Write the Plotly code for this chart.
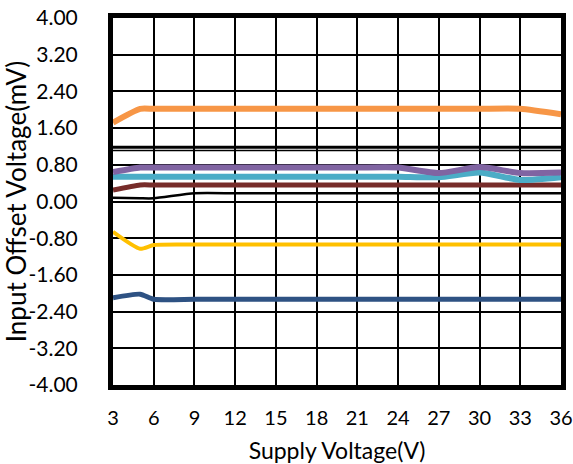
import plotly.graph_objects as go

supply_v = [3, 5, 6, 9, 12, 15, 18, 21, 24, 27, 30, 33, 36]

orange = [1.72, 2.02, 2.02, 2.02, 2.02, 2.02, 2.02, 2.02, 2.02, 2.02, 2.02, 2.02, 1.90]
purple = [0.64, 0.74, 0.74, 0.74, 0.74, 0.74, 0.74, 0.74, 0.74, 0.62, 0.75, 0.62, 0.63]
cyan = [0.54, 0.54, 0.54, 0.54, 0.54, 0.54, 0.54, 0.54, 0.54, 0.53, 0.63, 0.47, 0.53]
brown = [0.25, 0.36, 0.36, 0.36, 0.36, 0.36, 0.36, 0.36, 0.36, 0.36, 0.36, 0.36, 0.36]
black = [0.08, 0.07, 0.07, 0.18, 0.18, 0.18, 0.18, 0.18, 0.18, 0.18, 0.18, 0.18, 0.18]
black_hi = [1.18] * 13
black_hi2 = [1.11] * 13
yellow = [-0.66, -1.03, -0.95, -0.94, -0.94, -0.94, -0.94, -0.94, -0.94, -0.94, -0.94, -0.94, -0.94]
blue = [-2.10, -2.02, -2.13, -2.13, -2.13, -2.13, -2.13, -2.13, -2.13, -2.13, -2.13, -2.13, -2.13]

y_ticks = [-4.0, -3.2, -2.4, -1.6, -0.8, 0.0, 0.8, 1.6, 2.4, 3.2, 4.0]
y_tick_text = ["%.2f" % v for v in y_ticks]
x_ticks = [3, 6, 9, 12, 15, 18, 21, 24, 27, 30, 33, 36]

series = [
    (black_hi, "#000000", 3),
    (black_hi2, "#000000", 1.5),
    (black, "#000000", 2.5),
    (brown, "#772C2A", 5),
    (cyan, "#4BACC6", 6),
    (purple, "#8064A2", 6),
    (orange, "#F79646", 6),
    (yellow, "#FFC000", 4),
    (blue, "#2E5283", 5),
]

fig = go.Figure()
for vals, color, w in series:
    fig.add_trace(go.Scatter(x=supply_v, y=vals, mode="lines",
                             line=dict(color=color, width=w, shape="spline", smoothing=0.6),
                             showlegend=False, hoverinfo="skip"))

fig.update_layout(
    width=573, height=464,
    margin=dict(l=113, r=12, t=18, b=79),
    paper_bgcolor="white", plot_bgcolor="white",
    font=dict(family="Lato, DejaVu Sans, sans-serif", size=18, color="#000000"),
    showlegend=False,
)
fig.update_xaxes(
    range=[3, 36], tickvals=x_ticks, ticktext=[str(v) for v in x_ticks],
    showgrid=True, gridcolor="#000000", gridwidth=2,
    showline=True, linecolor="#000000", linewidth=5, mirror=True,
    zeroline=False, ticks="", ticklabelstandoff=11, automargin=False,
    ticklabeloverflow="allow",
    tickfont=dict(size=20),
    title=dict(text="Supply Voltage(V)", font=dict(size=23), standoff=24),
)
fig.update_yaxes(
    range=[-4, 4], tickvals=y_ticks, ticktext=y_tick_text,
    showgrid=True, gridcolor="#000000", gridwidth=2,
    showline=True, linecolor="#000000", linewidth=5, mirror=True,
    zeroline=False, ticks="", ticklabelstandoff=26, automargin=False,
    ticklabeloverflow="allow",
    tickfont=dict(size=21),
    title=dict(text="Input Offset Voltage(mV)", font=dict(size=26), standoff=0),
)

# remove the default 8px page margin so the 573x464 figure fills the window
fig.write_html("out.html", config={"displayModeBar": False},
               post_script="document.body.style.margin='0';")
